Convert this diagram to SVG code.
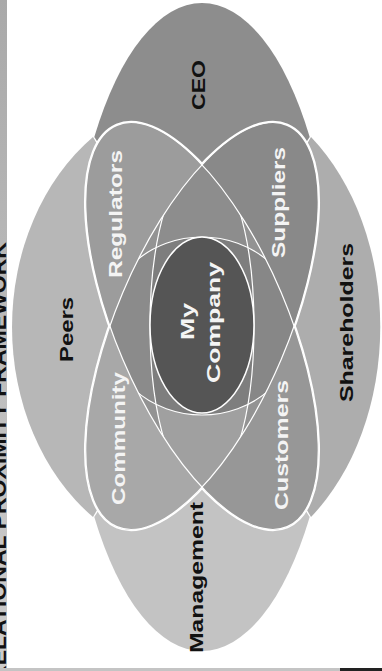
<svg xmlns="http://www.w3.org/2000/svg" width="382" height="671" viewBox="0 0 382 671">
<defs>
<style>
.lbl{font-family:"Liberation Sans",Arial,sans-serif;font-weight:bold;font-size:19px;text-anchor:middle}
.dk{fill:#111}
.wt{fill:#f4f4f4}
.ln{fill:none;stroke:#fff;stroke-width:1.2}
</style>
<linearGradient id="strip" x1="0" y1="0" x2="0" y2="1">
<stop offset="0" stop-color="#a9a9a9"/>
<stop offset="1" stop-color="#cdcdcd"/>
</linearGradient>
<ellipse id="eA" rx="218" ry="86" transform="translate(202,326) rotate(67)"/>
<ellipse id="eB" rx="218" ry="86" transform="translate(202,326) rotate(-67)"/>
<ellipse id="eE" cx="202" cy="326" rx="97" ry="89"/>
<ellipse id="eV" cx="202" cy="326" rx="52" ry="166"/>
<clipPath id="cA"><use href="#eA"/></clipPath>
<clipPath id="cB"><use href="#eB"/></clipPath>
<clipPath id="cE"><use href="#eE"/></clipPath>
<clipPath id="lowerHalf"><rect x="0" y="326" width="382" height="345"/></clipPath>
<clipPath id="rightHalf"><rect x="202" y="0" width="180" height="671"/></clipPath>
</defs>
<rect width="382" height="671" fill="#fff"/>
<g id="title">
<rect x="0" y="0" width="7" height="671" fill="url(#strip)"/>
<text transform="translate(6,242) rotate(-90)" style="font-family:'Liberation Sans',Arial,sans-serif;font-weight:bold;font-size:20px;text-anchor:end" fill="#111" textLength="440" lengthAdjust="spacingAndGlyphs">RELATIONAL PROXIMITY FRAMEWORK</text>
</g>
<rect x="0" y="668" width="340" height="3" fill="#c4c4c4"/>
<rect x="340" y="668" width="42" height="3" fill="#222"/>
<g id="peers"><path d="M93,137 A190,232 0 0 0 93,517 L202,327 Z" fill="#b7b7b7"/></g>
<g id="shareholders"><path d="M311,137 A178,240 0 0 1 311,517 L202,327 Z" fill="#adadad"/></g>
<g id="ceo"><path d="M94.3,137 A133,324 0 0 1 309.7,137 L202,300 Z" fill="#8d8d8d"/></g>
<g id="management"><path d="M94.3,517 A133,324 0 0 0 309.7,517 L202,350 Z" fill="#c3c3c3"/></g>
<g id="outline" fill="none" stroke="#fff" stroke-width="3.5">
<use href="#eA"/>
<use href="#eB"/>
</g>
<g id="regulators"><use href="#eA" fill="#9c9c9c"/></g>
<g id="customers"><use href="#eA" fill="#979797" clip-path="url(#lowerHalf)"/></g>
<g id="suppliers"><use href="#eB" fill="#898989"/></g>
<g id="community"><use href="#eB" fill="#a8a8a8" clip-path="url(#lowerHalf)"/></g>
<g id="overlap" clip-path="url(#cA)">
<g clip-path="url(#cB)">
<rect x="0" y="0" width="382" height="671" fill="#939393"/>
<use href="#eV" fill="#8d8d8d"/>
<use href="#eV" fill="#a0a0a0" clip-path="url(#lowerHalf)"/>
<use href="#eE" fill="#8b8b8b"/>
<use href="#eE" fill="#878787" clip-path="url(#rightHalf)"/>
<g clip-path="url(#cE)"><use href="#eV" fill="#7e7e7e"/></g>
<use href="#eE" class="ln"/>
<use href="#eV" class="ln"/>
</g>
</g>
<g id="lines">
<use href="#eA" class="ln"/>
<use href="#eB" class="ln"/>
</g>
<g id="mycompany"><ellipse cx="202" cy="325" rx="52" ry="88" fill="#555" stroke="#fff" stroke-width="1.5"/></g>
<g id="labels">
<text class="lbl dk" transform="translate(205,85) rotate(-90)" textLength="50" lengthAdjust="spacingAndGlyphs">CEO</text>
<text class="lbl wt" transform="translate(122,214) rotate(-90)" textLength="128" lengthAdjust="spacingAndGlyphs">Regulators</text>
<text class="lbl wt" transform="translate(285,202.5) rotate(-90)" textLength="111" lengthAdjust="spacingAndGlyphs">Suppliers</text>
<text class="lbl dk" transform="translate(73,329.5) rotate(-90)" textLength="65" lengthAdjust="spacingAndGlyphs">Peers</text>
<text class="lbl wt" transform="translate(194,321.5) rotate(-90)" textLength="37" lengthAdjust="spacingAndGlyphs">My</text>
<text class="lbl wt" transform="translate(220,322.5) rotate(-90)" textLength="121" lengthAdjust="spacingAndGlyphs">Company</text>
<text class="lbl dk" transform="translate(353,322.5) rotate(-90)" textLength="159" lengthAdjust="spacingAndGlyphs">Shareholders</text>
<text class="lbl wt" transform="translate(125,438.5) rotate(-90)" textLength="133" lengthAdjust="spacingAndGlyphs">Community</text>
<text class="lbl wt" transform="translate(288,445) rotate(-90)" textLength="130" lengthAdjust="spacingAndGlyphs">Customers</text>
<text class="lbl dk" transform="translate(203,577.5) rotate(-90)" textLength="151" lengthAdjust="spacingAndGlyphs">Management</text>
</g>
</svg>
